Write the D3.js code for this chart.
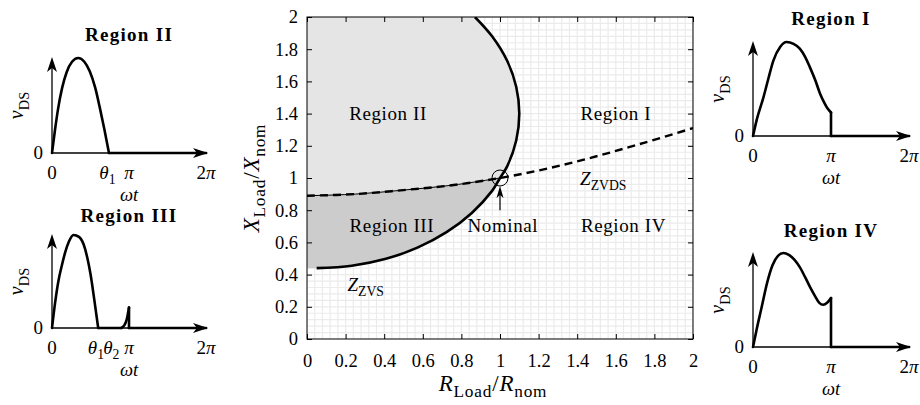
<!DOCTYPE html>
<html>
<head>
<meta charset="utf-8">
<script src="https://cdnjs.cloudflare.com/ajax/libs/d3/7.8.5/d3.min.js"></script>
<style>
body { margin: 0; background: #fff; }
text { font-family: "Liberation Serif", "Times New Roman", serif; fill: #000; }
</style>
</head>
<body>
<div id="chart"></div>
<script>
// ---- main chart data (R_Load/R_nom , X_Load/X_nom) ----
var zvsR = [0.05, 0.232, 0.409, 0.575, 0.725, 0.854, 0.959, 1.00, 1.037, 1.084, 1.10, 1.084, 1.037, 0.959, 0.87];
var zvsX = [0.44, 0.455, 0.498, 0.569, 0.665, 0.783, 0.92, 1.00, 1.072, 1.233, 1.40, 1.567, 1.728, 1.88, 2.00];
var zvdsR = [0, 0.25, 0.5, 0.75, 1.0, 1.25, 1.5, 1.75, 2.0];
var zvdsX = [0.89, 0.90, 0.925, 0.955, 1.0, 1.06, 1.135, 1.22, 1.31];
var nominalR = 1, nominalX = 1;
var tickValues = [0, 0.2, 0.4, 0.6, 0.8, 1, 1.2, 1.4, 1.6, 1.8, 2];
var tickLabels = ["0", "0.2", "0.4", "0.6", "0.8", "1", "1.2", "1.4", "1.6", "1.8", "2"];

// ---- v_DS waveforms (wt in units of pi, v normalised to the peak) ----
var wave2T = [0, 0.04, 0.08, 0.13, 0.19, 0.26, 0.34, 0.42, 0.49, 0.56, 0.62, 0.68, 0.74, 2];
var wave2V = [0, 0.25, 0.47, 0.68, 0.85, 0.96, 1.0, 0.96, 0.86, 0.69, 0.48, 0.25, 0, 0];
var wave3T = [0, 0.04, 0.08, 0.13, 0.17, 0.22, 0.28, 0.35, 0.41, 0.46, 0.5, 0.55, 0.6, 0.9, 0.94, 0.97, 1.0, 1.0, 2];
var wave3V = [0, 0.27, 0.49, 0.68, 0.81, 0.93, 1.0, 0.98, 0.9, 0.75, 0.58, 0.3, 0, 0, 0.03, 0.09, 0.22, 0, 0];
var wave1T = [0, 0.05, 0.13, 0.2, 0.26, 0.35, 0.43, 0.52, 0.6, 0.67, 0.73, 0.8, 0.86, 0.91, 0.95, 1.0, 1.0, 2];
var wave1V = [0, 0.18, 0.4, 0.62, 0.8, 0.95, 1.0, 0.98, 0.93, 0.84, 0.73, 0.59, 0.45, 0.36, 0.3, 0.25, 0, 0];
var wave4T = [0, 0.05, 0.11, 0.18, 0.25, 0.32, 0.39, 0.46, 0.53, 0.6, 0.67, 0.73, 0.79, 0.85, 0.9, 0.95, 1.0, 1.0, 2];
var wave4V = [0, 0.2, 0.42, 0.68, 0.87, 0.97, 1.0, 0.98, 0.93, 0.85, 0.74, 0.64, 0.55, 0.47, 0.45, 0.47, 0.52, 0, 0];

var ticks2At = [0, 0.72, 1, 2];
var ticks2Lab = ["0", "θ1", "π", "2π"];
var ticks3At = [0, 0.57, 0.77, 1, 2];
var ticks3Lab = ["0", "θ1", "θ2", "π", "2π"];
var ticks1At = [0, 1, 2];
var ticks1Lab = ["0", "π", "2π"];

var width = 920, height = 405;
var svg = d3.select("#chart").append("svg")
	.attr("width", width)
	.attr("height", height);
svg.append("rect").attr("width", width).attr("height", height).attr("fill", "#fff");

// helper: text made of italic / roman / subscript parts
function mathText(g, parts, size, subScale) {
	subScale = subScale || 0.72;
	var t = g.append("text");
	var shift = 0;
	parts.forEach(function(p) {
		var isSub = p[1].indexOf("s") >= 0;
		var want = isSub ? size * 0.28 : 0;
		var ts = t.append("tspan").text(p[0])
			.attr("dy", want - shift)
			.style("font-size", (isSub ? size * subScale : size) + "px");
		if (p[1].indexOf("i") >= 0) ts.style("font-style", "italic");
		shift = want;
	});
	return t;
}

// ================= main chart =================
var plot = { left: 307, right: 693, top: 17, bottom: 339 };
var x = d3.scaleLinear().domain([0, 2]).range([plot.left, plot.right]);
var y = d3.scaleLinear().domain([0, 2]).range([plot.bottom, plot.top]);

svg.append("clipPath").attr("id", "clip")
	.append("rect")
	.attr("x", plot.left).attr("y", plot.top)
	.attr("width", plot.right - plot.left).attr("height", plot.bottom - plot.top);

var main = svg.append("g").attr("clip-path", "url(#clip)");

// minor grid
var minor = d3.range(0, 2.0001, 0.04);
main.selectAll(".vgrid").data(minor).enter().append("line")
	.attr("x1", function(d) { return x(d); }).attr("x2", function(d) { return x(d); })
	.attr("y1", plot.top).attr("y2", plot.bottom)
	.attr("stroke", "#ebebeb").attr("stroke-width", 1.2);
main.selectAll(".hgrid").data(minor).enter().append("line")
	.attr("y1", function(d) { return y(d); }).attr("y2", function(d) { return y(d); })
	.attr("x1", plot.left).attr("x2", plot.right)
	.attr("stroke", "#ebebeb").attr("stroke-width", 1.2);

var zvs = zvsR.map(function(r, i) { return [r, zvsX[i]]; });
var zvds = zvdsR.map(function(r, i) { return [r, zvdsX[i]]; });
var zvdsLeft = zvds.filter(function(d) { return d[0] <= nominalR; });
var zvsUpper = zvs.filter(function(d) { return d[1] >= nominalX; });
var zvsLower = zvs.filter(function(d) { return d[1] <= nominalX; });

var poly = d3.line().x(function(d) { return x(d[0]); }).y(function(d) { return y(d[1]); });
var smooth = d3.line().x(function(d) { return x(d[0]); }).y(function(d) { return y(d[1]); }).curve(d3.curveCatmullRom.alpha(0.5));

// region II (light) and region III (dark) fills
var regionII = zvdsLeft.concat(zvsUpper).concat([[0, 2]]);
main.append("path").attr("d", poly(regionII) + "Z").attr("fill", "#e5e5e5");
var regionIII = [[0, zvsX[0]]].concat(zvsLower).concat(zvdsLeft.slice().reverse());
main.append("path").attr("d", poly(regionIII) + "Z").attr("fill", "#cccccc");

// Z_ZVDS curve
main.append("path").attr("d", smooth(zvdsLeft))
	.attr("fill", "none").attr("stroke", "#000").attr("stroke-width", 1);
main.append("path").attr("d", smooth(zvds))
	.attr("fill", "none").attr("stroke", "#000").attr("stroke-width", 2.4)
	.attr("stroke-dasharray", "8,5");

// Z_ZVS curve
main.append("path").attr("d", smooth(zvs))
	.attr("fill", "none").attr("stroke", "#000").attr("stroke-width", 2.6);

// axes (inward ticks on all sides)
function cleanAxis(g) {
	g.attr("font-family", null).attr("font-size", null);
	g.select(".domain").remove();
	g.selectAll("text").style("font-size", "18.5px");
}
svg.append("g").attr("transform", "translate(0," + plot.bottom + ")")
	.call(d3.axisBottom(x).tickValues(tickValues).tickSize(-5).tickSizeOuter(0).tickPadding(15)
		.tickFormat(function(d, i) { return tickLabels[i]; }))
	.call(cleanAxis);
svg.append("g").attr("transform", "translate(" + plot.left + ",0)")
	.call(d3.axisLeft(y).tickValues(tickValues).tickSize(-5).tickSizeOuter(0).tickPadding(9)
		.tickFormat(function(d, i) { return tickLabels[i]; }))
	.call(cleanAxis);
svg.append("g").attr("transform", "translate(0," + plot.top + ")")
	.call(d3.axisTop(x).tickValues(tickValues).tickSize(-5).tickSizeOuter(0).tickFormat(""))
	.call(cleanAxis);
svg.append("g").attr("transform", "translate(" + plot.right + ",0)")
	.call(d3.axisRight(y).tickValues(tickValues).tickSize(-5).tickSizeOuter(0).tickFormat(""))
	.call(cleanAxis);
svg.append("rect")
	.attr("x", plot.left).attr("y", plot.top)
	.attr("width", plot.right - plot.left).attr("height", plot.bottom - plot.top)
	.attr("fill", "none").attr("stroke", "#000").attr("stroke-width", 1);

// nominal point: circle + arrow
var nomR = 8;
svg.append("circle").attr("cx", x(nominalR)).attr("cy", y(nominalX)).attr("r", nomR)
	.attr("fill", "none").attr("stroke", "#000").attr("stroke-width", 1);
svg.append("line")
	.attr("x1", x(nominalR)).attr("x2", x(nominalR))
	.attr("y1", y(0.8)).attr("y2", y(nominalX) + nomR + 6)
	.attr("stroke", "#000").attr("stroke-width", 1.2);
svg.append("path")
	.attr("transform", "translate(" + x(nominalR) + "," + (y(nominalX) + nomR) + ")")
	.attr("d", "M0,0L-3.5,12L0,9L3.5,12Z").attr("fill", "#000");

// labels inside the main chart
var regionLabels = [
	{ t: "Region II", r: 0.42, xv: 1.36 },
	{ t: "Region I", r: 1.60, xv: 1.36 },
	{ t: "Region III", r: 0.44, xv: 0.665 },
	{ t: "Region IV", r: 1.64, xv: 0.665 },
	{ t: "Nominal", r: 1.015, xv: 0.665 }
];
regionLabels.forEach(function(l) {
	svg.append("text").attr("x", x(l.r)).attr("y", y(l.xv))
		.attr("text-anchor", "middle")
		.style("font-size", "19px").style("letter-spacing", "0.6px")
		.text(l.t);
});
mathText(svg, [["Z", "i"], ["ZVDS", "s"]], 19).attr("x", x(1.415)).attr("y", y(0.957));
mathText(svg, [["Z", "i"], ["ZVS", "s"]], 19).attr("x", x(0.21)).attr("y", y(0.30));

// axis titles
mathText(svg, [["R", "i"], ["Load", "s"], ["/", ""], ["R", "i"], ["nom", "s"]], 23, 0.75)
	.attr("x", 493).attr("y", 391).attr("text-anchor", "middle").style("letter-spacing", "0.8px");
mathText(svg, [["X", "i"], ["Load", "s"], ["/", ""], ["X", "i"], ["nom", "s"]], 23, 0.75)
	.attr("text-anchor", "middle").style("letter-spacing", "0.8px")
	.attr("transform", "translate(259," + ((plot.top + plot.bottom) / 2) + ") rotate(-90)");

// ================= small waveform panels =================
var panels = [
	{ title: "Region II", t: wave2T, v: wave2V, x0: 52, axisY: 153, vTop: 58, piPx: 77, titleY: 41, at: ticks2At, lab: ticks2Lab },
	{ title: "Region III", t: wave3T, v: wave3V, x0: 52, axisY: 328, vTop: 235, piPx: 77, titleY: 222, at: ticks3At, lab: ticks3Lab },
	{ title: "Region I", t: wave1T, v: wave1V, x0: 753, axisY: 136, vTop: 42, piPx: 78, titleY: 25, at: ticks1At, lab: ticks1Lab },
	{ title: "Region IV", t: wave4T, v: wave4V, x0: 753, axisY: 347, vTop: 253, piPx: 78, titleY: 237, at: ticks1At, lab: ticks1Lab }
];

function arrowHead(g, px, py, angle) {
	g.append("path")
		.attr("transform", "translate(" + px + "," + py + ") rotate(" + angle + ")")
		.attr("d", "M0,0L-5,15L0,11L5,15Z").attr("fill", "#000");
}

panels.forEach(function(p) {
	var g = svg.append("g");
	var px = d3.scaleLinear().domain([0, 2]).range([p.x0, p.x0 + 2 * p.piPx]);
	var py = d3.scaleLinear().domain([0, 1]).range([p.axisY, p.vTop]);

	// axes with arrows
	g.append("line").attr("x1", px(0)).attr("x2", px(2) - 4).attr("y1", py(0)).attr("y2", py(0))
		.attr("stroke", "#000").attr("stroke-width", 1.3);
	arrowHead(g, px(2) + 2, py(0), 90);
	g.append("line").attr("x1", px(0)).attr("x2", px(0)).attr("y1", py(0)).attr("y2", py(1) + 4)
		.attr("stroke", "#000").attr("stroke-width", 1.3);
	arrowHead(g, px(0), py(1) - 1, 0);

	// waveform, split into smooth runs and straight pieces
	var pts = p.t.map(function(t, i) { return [t, p.v[i]]; });
	var lineS = d3.line().x(function(d) { return px(d[0]); }).y(function(d) { return py(d[1]); }).curve(d3.curveMonotoneX);
	var lineL = d3.line().x(function(d) { return px(d[0]); }).y(function(d) { return py(d[1]); });
	var run = [pts[0]];
	function flush() {
		if (run.length > 1) {
			g.append("path").attr("d", lineS(run)).attr("fill", "none")
				.attr("stroke", "#000").attr("stroke-width", 2.6).attr("stroke-linecap", "round").attr("stroke-linejoin", "round");
		}
	}
	for (var i = 1; i < pts.length; i++) {
		var a = pts[i - 1], b = pts[i];
		var straight = (a[0] === b[0]) || (a[1] === 0 && b[1] === 0);
		if (straight) {
			flush();
			g.append("path").attr("d", lineL([a, b])).attr("fill", "none")
				.attr("stroke", "#000").attr("stroke-width", 2.6).attr("stroke-linecap", "round");
			run = [b];
		} else {
			run.push(b);
		}
	}
	flush();

	// labels
	g.append("text").attr("x", px(1)).attr("y", p.titleY).attr("text-anchor", "middle")
		.style("font-size", "19px").style("font-weight", "bold").style("letter-spacing", "1.3px")
		.text(p.title);
	g.append("text").attr("x", px(0) - 9).attr("y", py(0)).attr("dy", "0.34em").attr("text-anchor", "end")
		.style("font-size", "19px").text("0");
	p.at.forEach(function(t, i) {
		var s = p.lab[i];
		var parts;
		if (s.charAt(0) === "θ") parts = [["θ", "i"], [s.slice(1), "s"]];
		else if (s === "2π") parts = [["2", ""], ["π", "i"]];
		else if (s === "π") parts = [["π", "i"]];
		else parts = [[s, ""]];
		mathText(g, parts, 19).attr("x", px(t)).attr("y", py(0) + 26).attr("text-anchor", "middle");
	});
	mathText(g, [["ωt", "i"]], 18.5).attr("x", px(1)).attr("y", py(0) + 48).attr("text-anchor", "middle");
	mathText(g, [["v", "i"], ["DS", "s"]], 20)
		.attr("text-anchor", "middle")
		.attr("transform", "translate(" + (p.x0 - 29) + "," + ((py(0) + py(1)) / 2) + ") rotate(-90)");
});
</script>
</body>
</html>
